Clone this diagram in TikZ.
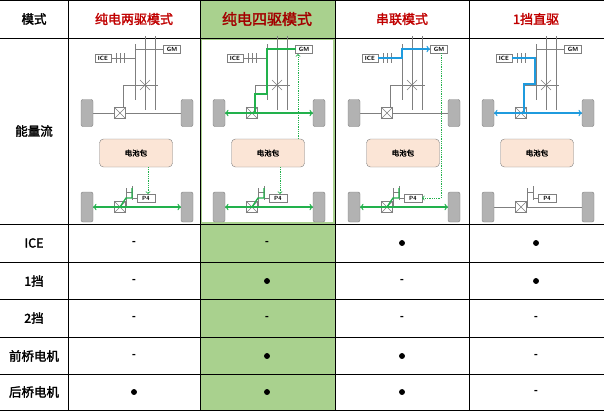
\documentclass[tikz,border=0pt]{standalone}
\usepackage{fontspec}
\newfontfamily\cjk{Noto Sans CJK SC}[AutoFakeBold=2]
\setmainfont{Carlito}
\definecolor{hdrred}{HTML}{C00000}
\definecolor{modegreen}{HTML}{A9D18E}
\definecolor{flowgreen}{HTML}{22B14C}
\definecolor{flowblue}{HTML}{1F9BDE}
\definecolor{packfill}{HTML}{FBE5D6}
\definecolor{partgray}{HTML}{7F7F7F}
\tikzset{
  hdr/.style={font=\cjk\bfseries\fontsize{13}{15}\selectfont, text=hdrred},
  rowlbl/.style={font=\cjk\bfseries\fontsize{12.5}{14}\selectfont},
  part/.style={draw=partgray, line width=0.6pt},
  box/.style={draw=partgray, fill=white, line width=0.7pt, font=\sffamily\bfseries\fontsize{6}{7}\selectfont,
    inner sep=0.5pt, minimum height=8pt},
  wheel/.style={draw=partgray, fill=gray!60, rounded corners=2pt},
  green flow/.style={flowgreen, line width=1.3pt},
  blue flow/.style={flowblue, line width=1.3pt},
  elec flow/.style={flowgreen, densely dotted, line width=0.8pt},
  ondot/.style={circle, fill, inner sep=2.1pt},
  offmark/.style={font=\bfseries\large}
}
% one drive schematic, #1 = left edge of the cell
\newcommand{\schem}[1]{
  \begin{scope}[shift={(#1,0)}]
    \draw[part] (43,58) -- (67,58);
    \foreach \gx in {48,52,56} \draw[part] (\gx,53) -- (\gx,63);
    \draw[part] (67,44) -- (67,100) (77,36) -- (77,110) (87,36) -- (87,110);
    \draw[part] (67,49) -- (96,49) (55,85) -- (90,85) (55,85) -- (55,113);
    \draw[part] (72,80) -- (82,90) (72,90) -- (82,80);
    \draw[part] (25,113) -- (113,113) (25,207) -- (113,207);
    \node[wheel, minimum width=12pt, minimum height=27pt] at (19,113) {};
    \node[wheel, minimum width=12pt, minimum height=27pt] at (119,113) {};
    \node[wheel, minimum width=12pt, minimum height=30pt] at (19,207) {};
    \node[wheel, minimum width=12pt, minimum height=30pt] at (119,207) {};
    \node[box, minimum width=11pt, minimum height=11pt] (fd) at (52,113) {};
    \draw[part] (fd.north west) -- (fd.south east) (fd.north east) -- (fd.south west);
    \node[box, minimum width=11pt, minimum height=11pt] (rd) at (52,207) {};
    \draw[part] (rd.north west) -- (rd.south east) (rd.north east) -- (rd.south west);
    \draw[part] (58,188) -- (58,207) (64,186) -- (64,200) (58,192) -- (64,192) (64,198) -- (69,198);
    \node[box, minimum width=16pt] (ice) at (35,58) {ICE};
    \node[box, minimum width=17pt] (gm) at (104,49) {GM};
    \node[box, minimum width=18pt] (p4) at (78,198) {P4};
    \node[draw=partgray, fill=packfill, rounded corners=4pt, minimum width=73pt,
      minimum height=28pt, font=\cjk\bfseries\fontsize{7.5}{8}\selectfont] (pack) at (68,153) {电池包};
  \end{scope}
}
\begin{document}
\begin{tikzpicture}[x=1pt,y=-1pt]
  \useasboundingbox (0,0) rectangle (604,413);
  \fill[modegreen] (200,0) rectangle (335,411);
  \fill[white] (202,40) rectangle (333,222);
  % grid
  \foreach \cx in {68,200,335,469} \draw (\cx,0) -- (\cx,411);
  \foreach \ry in {38,224,262,299,337,374} \draw (0,\ry) -- (604,\ry);
  \draw[line width=1.2pt] (0,0.6) -- (604,0.6) (0,410.5) -- (604,410.5);
  % header
  \node[rowlbl] (hmode) at (34,19) {模式};
  \node[hdr] (hev2) at (134,19) {纯电两驱模式};
  \node[hdr, font=\cjk\bfseries\fontsize{15}{17}\selectfont, text=hdrred!85!black] (hev4) at (267,19) {纯电四驱模式};
  \node[hdr] (hser) at (402,19) {串联模式};
  \node[hdr] (hdir) at (536,19) {1挡直驱};
  \node[rowlbl] (lflow) at (34,131) {能量流};
  % schematics
  \schem{68}
  \schem{200}
  \schem{335}
  \schem{469}
  % pure EV 2WD
  \draw[elec flow, ->] (148,167) -- (148,194);
  \draw[green flow, <->] (93,207) -- (181,207);
  \draw[green flow] (120,207) -- (126,198) -- (132,198) -- (132,188);
  % pure EV 4WD
  \draw[elec flow, ->] (298,139) -- (298,54);
  \draw[elec flow, ->] (280,167) -- (280,194);
  \draw[green flow, <->] (225,113) -- (313,113);
  \draw[green flow] (296,49) -- (267,49) -- (267,94) -- (255,94) -- (255,113);
  \draw[green flow, <->] (225,207) -- (313,207);
  \draw[green flow] (252,207) -- (258,198) -- (264,198) -- (264,188);
  % series
  \draw[blue flow, ->] (378,58) -- (402,58) -- (402,49) -- (430,49);
  \draw[elec flow, ->] (441,53) -- (441,198) -- (422,198);
  \draw[green flow, <->] (360,207) -- (448,207);
  \draw[green flow] (387,207) -- (393,198) -- (399,198) -- (399,188);
  % gear 1 direct
  \draw[blue flow] (512,58) -- (535,58) -- (535,84) -- (524,84) -- (524,113);
  \draw[blue flow, <->] (494,113) -- (582,113);
  % rows
  \foreach \lbl/\ry in {ICE/243,1挡/281,2挡/318,前桥电机/356,后桥电机/392}
    \node[rowlbl] at (34,\ry) {\lbl};
  \foreach \ry/\a/\b/\c/\d in {243/0/0/1/1, 281/0/1/0/1, 318/0/0/0/0, 356/0/1/1/0, 392/1/1/1/0}{
    \foreach \v/\cx in {\a/134,\b/267,\c/402,\d/536}{
      \ifnum\v=1 \node[ondot] at (\cx,\ry) {}; \else \node[offmark] at (\cx,\ry) {-}; \fi
    }
  }
\end{tikzpicture}
\end{document}
